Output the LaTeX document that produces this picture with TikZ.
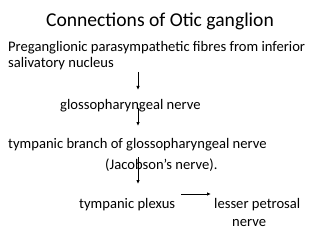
\documentclass[tikz,border=0pt]{standalone}
\usepackage{fontspec}
\setmainfont{Carlito}
\usetikzlibrary{arrows.meta,positioning}

\begin{document}
\begin{tikzpicture}[
      x=1pt, y=-1pt,
      every node/.style={inner sep=0pt, anchor=base west},
      txt/.style={font=\fontsize{14.6}{17}\selectfont},
      ttl/.style={font=\fontsize{19.6}{23}\selectfont, anchor=base},
      link/.style={->, line width=0.9pt},
      >={Latex[length=4pt,width=3.5pt]}
    ]
    \useasboundingbox (0,0) rectangle (320,240);
    % TITULO
    \node[ttl] (titulo) at (160,27) {Connections of Otic ganglion};
    % NODOS
    \node[txt] (pregang) at (8,52) {Preganglionic parasympathetic fibres from inferior};
    \node[txt] (saliv) at (8,68) {salivatory nucleus};
    \node[txt] (glosso) at (60,110) {glossopharyngeal nerve};
    \node[txt] (timpbr) at (8,148) {tympanic branch of glossopharyngeal nerve};
    \node[txt] (jacob) at (105,169) {(Jacobson’s nerve).};
    \node[txt] (plexo) at (79,208) {tympanic plexus};
    \node[txt] (lesser) at (214,208) {lesser petrosal};
    \node[txt] (nervio) at (232,226) {nerve};

    % FLECHAS
    \coordinate (f1a) at (138,72);  \coordinate (f1b) at (138,90);
    \coordinate (f2a) at (138,108); \coordinate (f2b) at (138,126);
    \coordinate (f3a) at (138,157); \coordinate (f3b) at (138,184);
    \coordinate (f4a) at (181,194); \coordinate (f4b) at (211,194);
    \draw[link] (f1a) -- (f1b);
    \draw[link] (f2a) -- (f2b);
    \draw[link] (f3a) -- (f3b);
    \draw[link] (f4a) -- (f4b);
  \end{tikzpicture}
\end{document}
